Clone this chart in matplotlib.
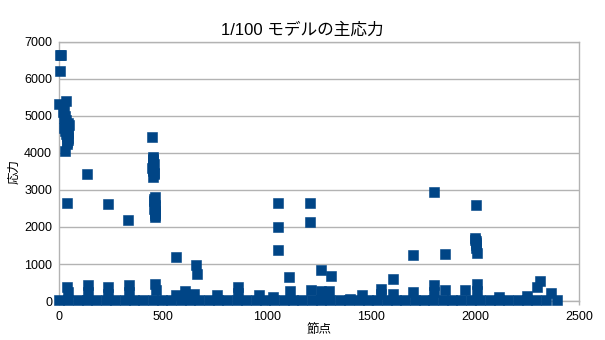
import matplotlib
matplotlib.use('Agg')
from matplotlib import pyplot as plt

plt.rcParams['font.family'] = ['Liberation Sans', 'Noto Sans CJK JP', 'DejaVu Sans']

TITLE = '1/100 モデルの主応力'
X_LABEL = '節点'
Y_LABEL = '応力'
X_TICKS = [0, 500, 1000, 1500, 2000, 2500]
Y_TICKS = [0, 1000, 2000, 3000, 4000, 5000, 6000, 7000]
COLOR = '#004586'

# high stress nodes
peak_node = [0, 3, 8, 5, 36,
             20, 25, 30, 35, 40, 45, 28, 33, 42, 38, 48, 22, 44, 31,
             26, 34, 39, 43, 37, 41,
             27, 38, 137, 235, 334,
             447, 450, 452, 455, 449, 453, 456, 451, 454, 450, 452, 455,
             460, 458, 461, 459, 462, 460, 459, 461, 460, 462,
             562, 660, 665,
             1053, 1053, 1053, 1108, 1207, 1207, 1260, 1308,
             1605, 1703, 1803, 1857,
             2005, 2000, 2003, 2006, 2008, 2004, 2007, 2002,
             2300, 2312]
peak_val = [5330, 6660, 6640, 6220, 5410,
            5100, 4950, 4850, 4780, 4700, 4650, 4600, 4500, 4400, 4300, 4750, 4680, 4550, 5000,
            5200, 4900, 4450, 4350, 4250, 4800,
            4060, 2640, 3420, 2610, 2180,
            4420, 3900, 3800, 3700, 3600, 3500, 3420, 3360, 3850, 3650, 3550, 3450,
            2800, 2700, 2600, 2480, 2380, 2280, 2750, 2550, 2430, 2330,
            1200, 960, 720,
            2640, 2010, 1390, 640, 2640, 2140, 830, 680,
            590, 1240, 2940, 1270,
            2600, 1700, 1620, 1520, 1300, 1580, 1420, 1660,
            380, 550]

# small bumps above the base band
bump_node = [40, 45, 140, 235, 337, 462, 465, 563, 605, 650, 760, 860, 962,
             1030, 1110, 1210, 1260, 1300, 1400, 1457, 1548, 1605, 1700,
             1803, 1857, 1950, 2010, 2115, 2250, 2365,
             140, 235, 337, 860, 1548, 1803, 2010]
bump_val = [380, 250, 440, 370, 440, 470, 300, 160, 260, 200, 150, 390, 170,
            120, 280, 290, 280, 270, 60, 170, 330, 190, 230,
            420, 290, 310, 460, 120, 140, 210,
            250, 200, 250, 220, 180, 250, 280]

# near-zero band
base_node = [0, 45, 90, 135, 180, 225, 270, 315, 360, 405, 450, 495, 540,
             585, 630, 675, 720, 765, 810, 855, 900, 945, 990, 1035, 1080,
             1125, 1170, 1215, 1260, 1305, 1350, 1395, 1440, 1485, 1530,
             1575, 1620, 1665, 1710, 1755, 1800, 1845, 1890, 1935, 1980,
             2025, 2070, 2115, 2160, 2205, 2250, 2295, 2340, 2395]
base_val = [40, 30, 35, 25, 40, 30, 35, 30, 40, 25, 35, 30, 40,
            30, 35, 25, 30, 40, 30, 35, 25, 30, 40, 35, 30,
            25, 35, 30, 40, 30, 25, 35, 30, 40, 30,
            25, 35, 30, 40, 30, 35, 25, 30, 40, 35,
            30, 25, 35, 30, 40, 30, 35, 25, 30]

fig = plt.figure(figsize=(6.05, 3.4), dpi=100)
ax = fig.add_axes([0.0975, 0.1147, 0.8595, 0.7618])

for xs, ys in [(base_node, base_val), (bump_node, bump_val), (peak_node, peak_val)]:
    ax.scatter(xs, ys, marker='s', s=60, facecolor=COLOR, edgecolor=COLOR,
               linewidth=0.4, zorder=3, clip_on=False)

ax.set_xlim(0, 2500)
ax.set_ylim(0, 7000)
ax.set_xticks(X_TICKS)
ax.set_yticks(Y_TICKS)
ax.yaxis.grid(True, color='#b3b3b3', linewidth=1)
ax.set_axisbelow(True)
for sp in ax.spines.values():
    sp.set_color('#b3b3b3')
    sp.set_linewidth(1)
ax.tick_params(axis='both', colors='#b3b3b3', labelcolor='black', labelsize=9,
               length=3, width=1)
ax.tick_params(axis='x', pad=4)
ax.tick_params(axis='y', length=0, pad=5)

fig.suptitle(TITLE, fontsize=12, y=0.935, x=0.5)
ax.set_xlabel(X_LABEL, fontsize=9, labelpad=1)
ax.set_ylabel(Y_LABEL, fontsize=9, labelpad=3)

plt.savefig('out.png', dpi=100)
